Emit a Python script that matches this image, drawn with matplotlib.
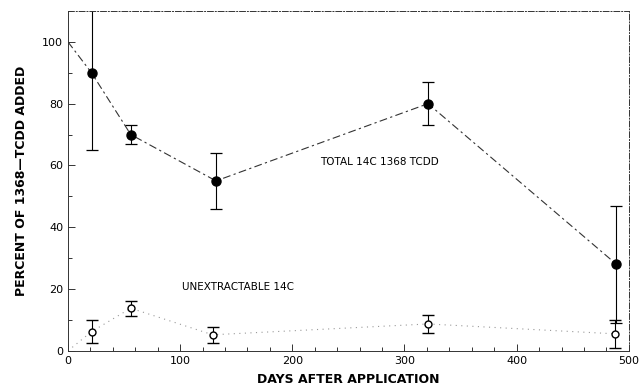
import numpy as np
import matplotlib
matplotlib.use('Agg')
from matplotlib import pyplot as plt
from matplotlib.ticker import MultipleLocator

# total 14C 1368 TCDD (filled circles)
total_days = [0, 21, 56, 132, 321, 489]
total_pct = [100, 90, 70, 55, 80, 28]
total_err = [0, 25, 3, 9, 7, 19]

# unextractable 14C (open circles)
unext_days = [0, 21, 56, 129, 321, 488]
unext_pct = [0, 6.2, 13.8, 5.2, 8.7, 5.5]
unext_err = [0, 3.8, 2.4, 2.6, 3.0, 4.5]

xticks = [0, 100, 200, 300, 400, 500]
yticks = [0, 20, 40, 60, 80, 100]

fig = plt.figure(figsize=(6.41, 3.92), dpi=100)
ax = fig.add_axes([0.106, 0.105, 0.875, 0.867])

ax.plot(total_days, total_pct, color='#333333', lw=0.8, dashes=(7, 3, 2, 3))
ax.errorbar(total_days[1:], total_pct[1:], yerr=total_err[1:], fmt='o', color='black',
            ms=6.5, capsize=4, elinewidth=0.8, capthick=0.9)

ax.plot(unext_days, unext_pct, color='#999999', lw=0.8, linestyle=(0, (1, 4)))
ax.errorbar(unext_days[1:], unext_pct[1:], yerr=unext_err[1:], fmt='o', mfc='white',
            mec='black', color='black', ms=5, mew=1, capsize=4, elinewidth=0.8, capthick=0.9)

ax.text(225, 61, 'TOTAL 14C 1368 TCDD', fontsize=7.5, ha='left', va='center')
ax.text(102, 20.6, 'UNEXTRACTABLE 14C', fontsize=7.5, ha='left', va='center')

ax.set_xlim(0, 500)
ax.set_ylim(0, 110)
ax.set_xticks(xticks)
ax.set_yticks(yticks)
ax.set_yticklabels([str(v) for v in yticks])
ax.xaxis.set_minor_locator(MultipleLocator(20))
ax.yaxis.set_minor_locator(MultipleLocator(10))
ax.tick_params(which='both', direction='in', labelsize=8, width=0.7, color='#333333')
ax.tick_params(which='major', length=5)
ax.tick_params(which='minor', length=3)

for s in ['top', 'right']:
    ax.spines[s].set_linestyle((0, (6, 2, 1, 2)))
for s in ax.spines.values():
    s.set_linewidth(0.7)
    s.set_color('#333333')

ax.set_xlabel('DAYS AFTER APPLICATION', fontsize=9, fontweight='bold', labelpad=5)
ax.set_ylabel('PERCENT OF 1368\u2014TCDD ADDED', fontsize=9, fontweight='bold', labelpad=10)

fig.savefig('out.png', dpi=100)
